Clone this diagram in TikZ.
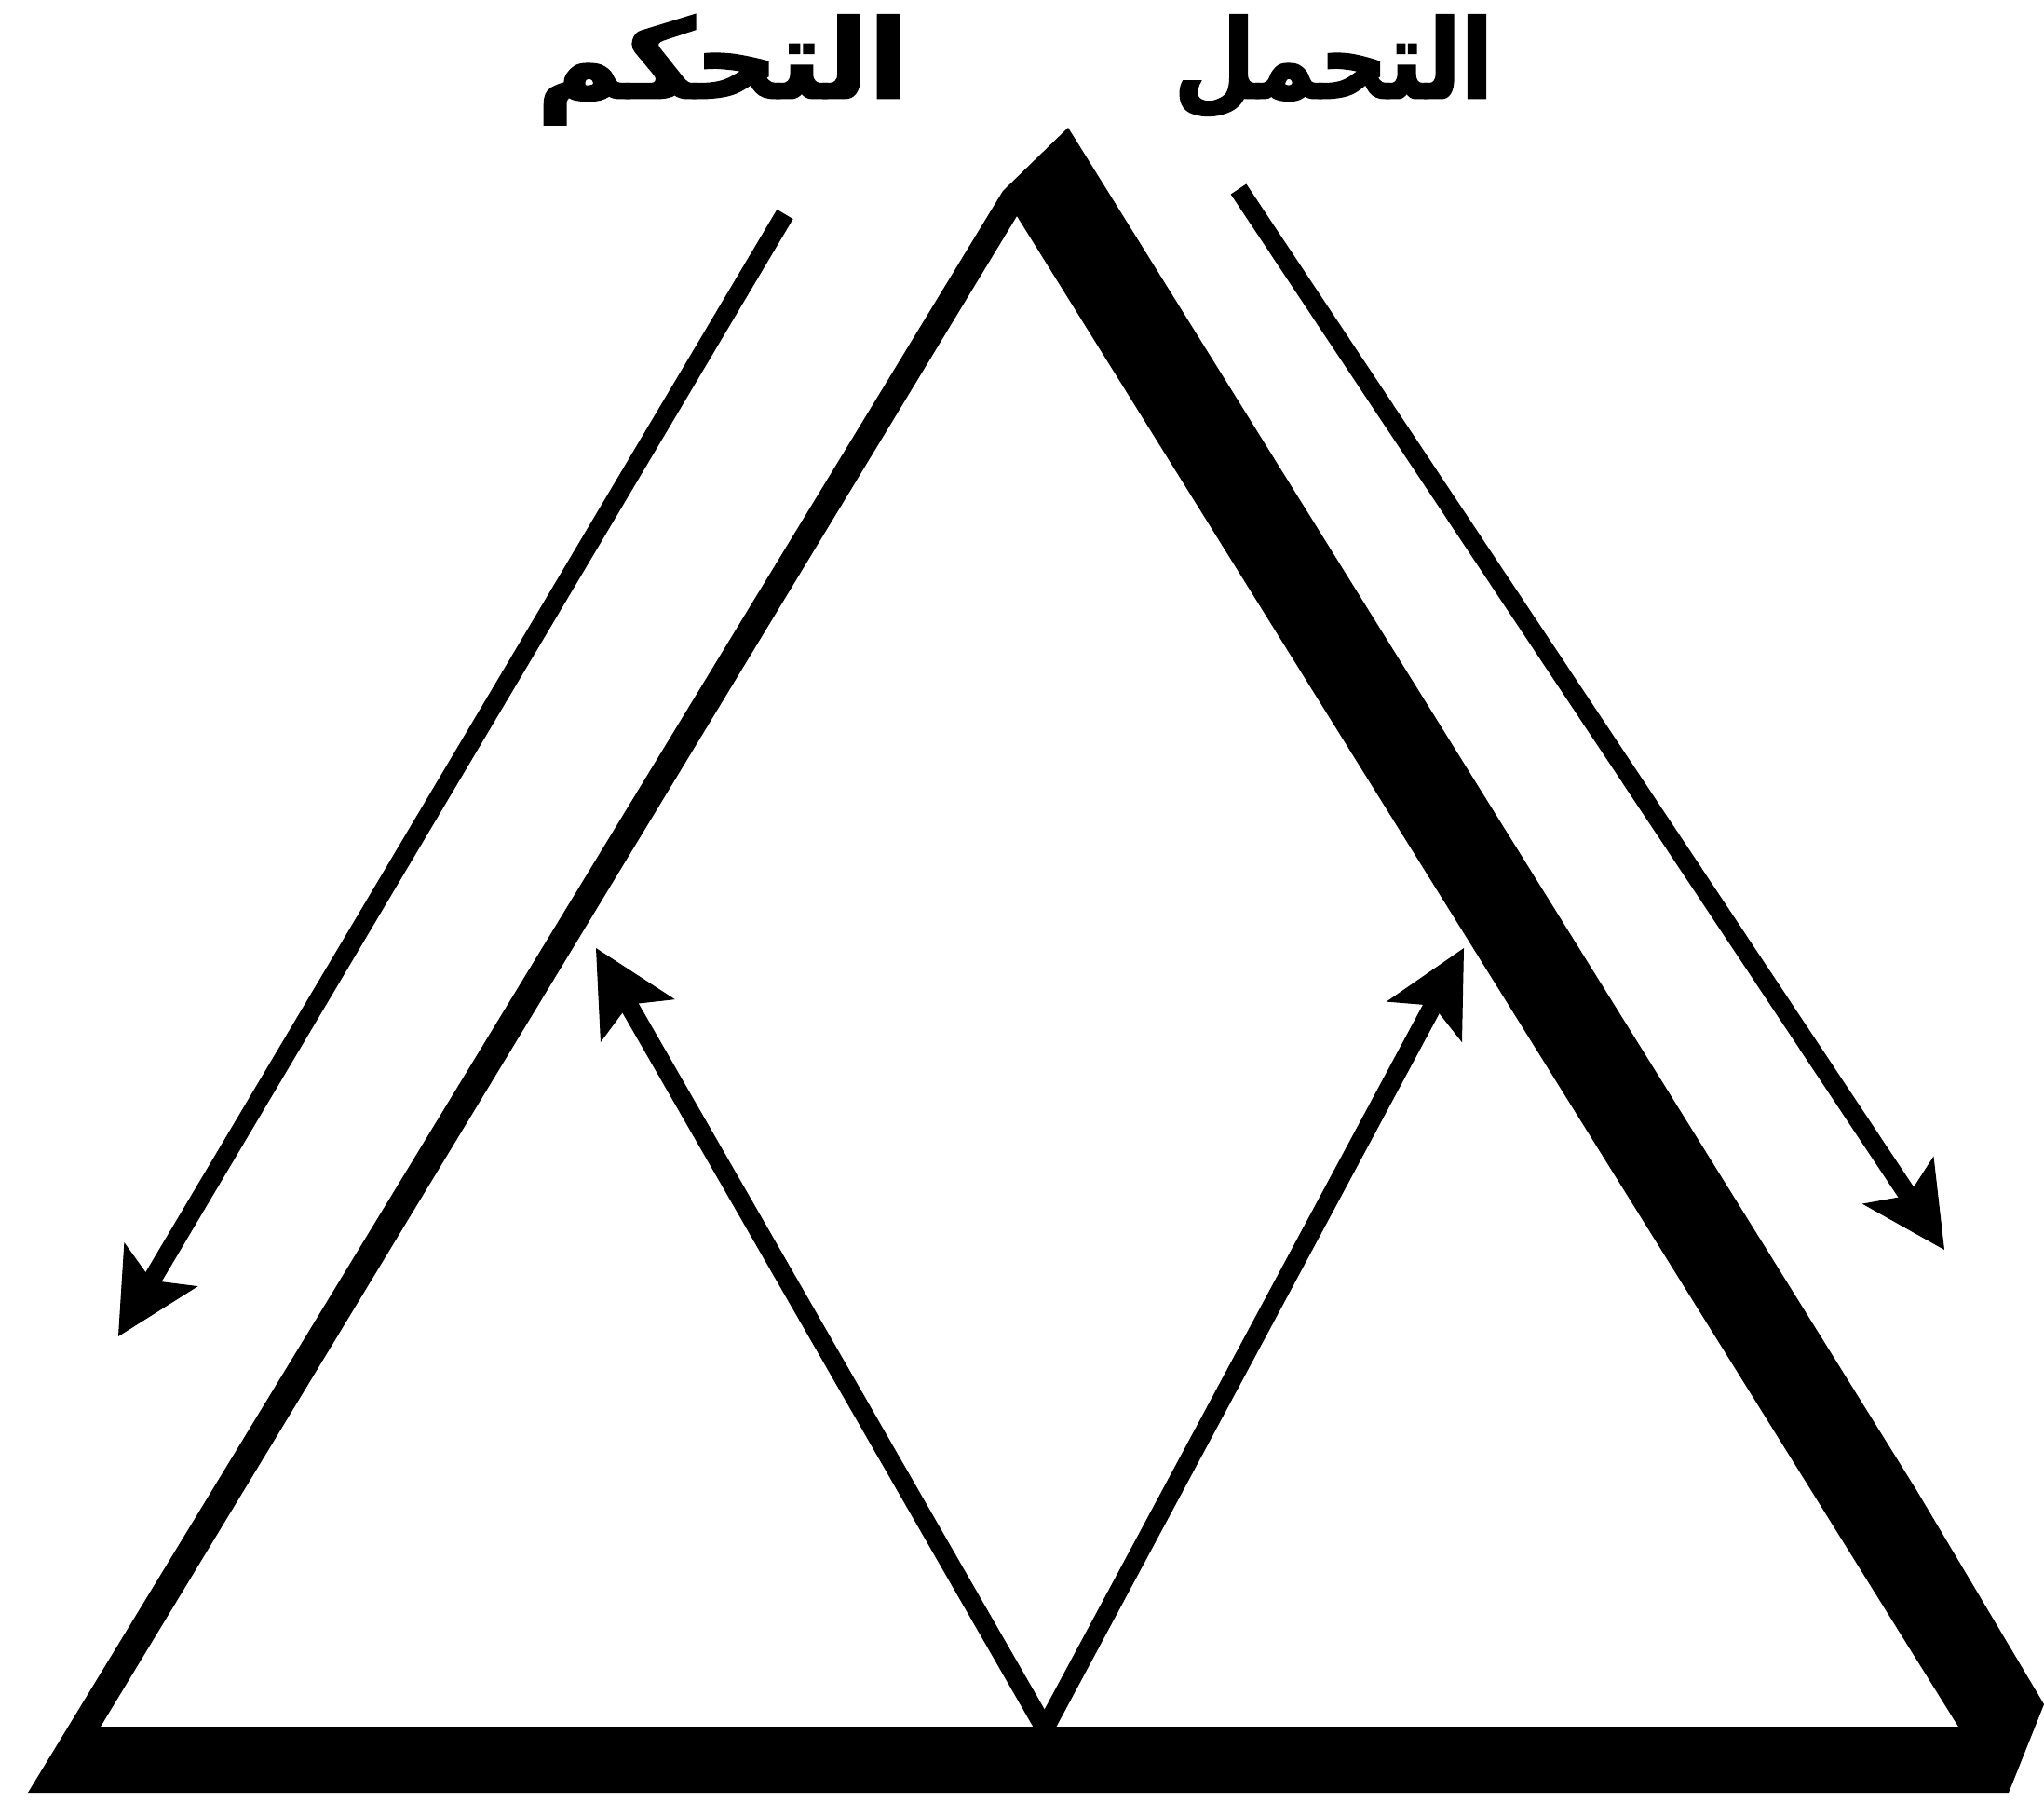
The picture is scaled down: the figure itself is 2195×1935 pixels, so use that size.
\documentclass[tikz,border=0pt]{standalone}
\usepackage{fontspec}
\usetikzlibrary{arrows.meta}
\TeXXeTstate=1
\newfontfamily\arabicfont[Script=Arabic,FakeBold=2.5]{DejaVu Sans Bold}
\begin{document}
\begin{tikzpicture}[x=0.5pt,y=-0.5pt,
  band/.style={fill=black,even odd rule},
  flow/.style={line width=10pt,line cap=butt,
    -{Stealth[length=45pt,width=46pt,inset=10pt,line width=0.5pt]}},
  word/.style={font=\arabicfont\fontsize{62pt}{70pt}\selectfont,anchor=base,inner sep=0pt}]
\useasboundingbox (0,0) rectangle (2195,1935);
% thick-walled triangle
\fill[band] (1147,137) -- (2058,1600) -- (2195,1830) -- (2157,1925) -- (30,1925) -- (1077,205) -- cycle
            (1092,232) -- (2103,1854) -- (108,1854) -- cycle;
% labels
\node[word] (control) at (776,105) {\scalebox{1.0}[0.94]{\beginR التحكم\endR}};
\node[word] (endure) at (1432,105) {\scalebox{0.81}[0.94]{\beginR التحمل\endR}};
% arrow end points
\coordinate (ls) at (843,230);
\coordinate (lt) at (127,1435);
\coordinate (rs) at (1330,203);
\coordinate (rt) at (2088,1342);
\coordinate (base) at (1122,1856);
\coordinate (ilt) at (640,1018);
\coordinate (irt) at (1572,1018);
\draw[flow] (ls) -- (lt);
\draw[flow] (rs) -- (rt);
\draw[flow] (base) -- (ilt);
\draw[flow] (base) -- (irt);
\end{tikzpicture}
\end{document}
